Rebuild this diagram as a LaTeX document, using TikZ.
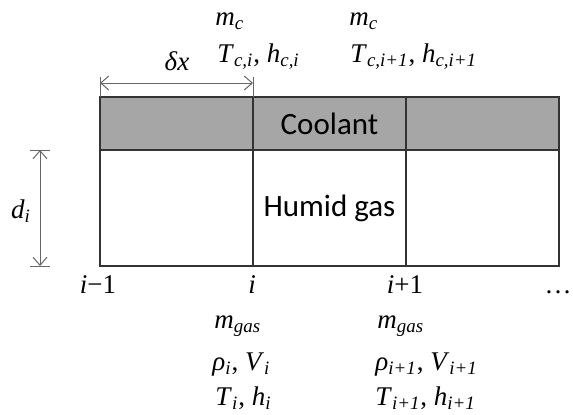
\documentclass[tikz,border=0pt]{standalone}
\usepackage{fontspec}
\setmainfont{Liberation Serif}
\newfontfamily\labfont{Liberation Serif}
\newfontfamily\cellfont{Carlito}
\usetikzlibrary{positioning,calc,arrows.meta}
\definecolor{coolgray}{HTML}{A6A6A6}
\newcommand{\qsub}[2]{\textit{#1}\textsubscript{\textit{#2}}}

\begin{document}
\begin{tikzpicture}[
  x=0.5pt,y=-0.5pt,
  line join=miter,
  cell/.style={draw=black!80,line width=1pt,inner sep=0pt,outer sep=0pt,
    minimum width=76.5pt,font=\cellfont\fontsize{15.5}{18}\selectfont},
  coolcell/.style={cell,fill=coolgray,minimum height=26.5pt},
  gascell/.style={cell,fill=white,minimum height=58pt},
  dim/.style={draw=black!60,line width=0.5pt,
    {Straight Barb[length=4pt,width=7pt]}-{Straight Barb[length=4pt,width=7pt]}},
  dimtick/.style={draw=black!60,line width=0.5pt},
  lab/.style={inner sep=0pt,anchor=base west,font=\labfont\fontsize{13.5}{16}\selectfont}
]
  \useasboundingbox (0,0) rectangle (573,414);

  % Cells
  \node[coolcell,anchor=north west] (cool1) at (100,97) {};
  \node[coolcell,right=0pt of cool1] (cool2) {Coolant};
  \node[coolcell,right=0pt of cool2] (cool3) {};
  \node[gascell,below=0pt of cool1] (gas1) {};
  \node[gascell,below=0pt of cool2] (gas2) {Humid gas};
  \node[gascell,below=0pt of cool3] (gas3) {};

  % Cell length
  \coordinate (dxL) at ($(cool1.north west)+(0,-14)$);
  \coordinate (dxR) at ($(cool1.north east)+(0,-14)$);
  \draw[dim] (dxL) -- (dxR);
  \draw[dimtick] ($(cool1.north west)+(0,-20)$) -- (cool1.north west);
  \draw[dimtick] ($(cool1.north east)+(0,-20)$) -- (cool1.north east);
  \node[lab,anchor=base] (dx) at (177,70) {\textit{δx}};

  % Gas channel height
  \coordinate (diT) at ($(gas1.north west)+(-60,0)$);
  \coordinate (diB) at ($(gas1.south west)+(-60,0)$);
  \draw[dim] (diT) -- (diB);
  \draw[dimtick] ($(diT)+(-10,0)$) -- ($(diT)+(10,0)$);
  \draw[dimtick] ($(diB)+(-10,0)$) -- ($(diB)+(10,0)$);
  \node[lab,anchor=base] (di) at (21,218) {\qsub{d}{i}};

  % Coolant quantities
  \node[lab] (mc1) at (215,25) {\qsub{m}{c}};
  \node[lab] (thc1) at (217,62) {\qsub{T}{c,i}, \qsub{h}{c,i}};
  \node[lab] (mc2) at (349,25) {\qsub{m}{c}};
  \node[lab] (thc2) at (350,62) {\qsub{T}{c,i+1}, \qsub{h}{c,i+1}};

  % Node indices
  \node[lab,anchor=base] (im1) at (98,293) {\textit{i}−1};
  \node[lab,anchor=base] (ii) at (252,293) {\textit{i}};
  \node[lab,anchor=base] (ip1) at (405,293) {\textit{i}+1};
  \node[lab,anchor=base east] (more) at (572,293) {…};

  % Gas quantities
  \node[lab] (mg1) at (214,328) {\qsub{m}{gas}};
  \node[lab] (rv1) at (212,370) {\qsub{ρ}{i}, \qsub{V}{i}};
  \node[lab] (th1) at (215,405) {\qsub{T}{i}, \qsub{h}{i}};
  \node[lab] (mg2) at (377,328) {\qsub{m}{gas}};
  \node[lab] (rv2) at (375,370) {\qsub{ρ}{i+1}, \qsub{V}{i+1}};
  \node[lab] (th2) at (375,405) {\qsub{T}{i+1}, \qsub{h}{i+1}};
\end{tikzpicture}
\end{document}
